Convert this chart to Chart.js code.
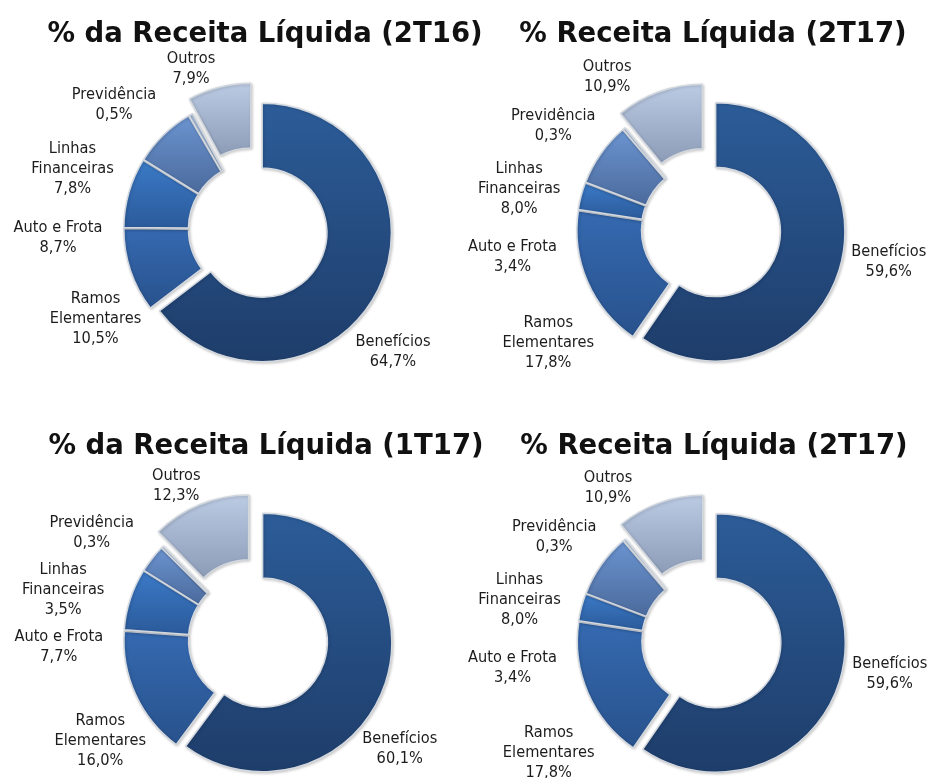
<!DOCTYPE html>
<html>
<head>
<meta charset="utf-8">
<script src="https://cdn.jsdelivr.net/npm/chart.js@4.4.0/dist/chart.umd.min.js"></script>
<style>
html,body{margin:0;padding:0;background:#ffffff;}
#page{position:relative;width:928px;height:778px;overflow:hidden;background:#ffffff;}
#page canvas{position:absolute;}
.ttl{position:absolute;white-space:nowrap;font-family:"DejaVu Sans";font-weight:bold;font-size:27.5px;line-height:32px;color:#111111;transform:translateX(-50%);z-index:2;}
</style>
</head>
<body>
<div id="page">
<canvas id="c0" width="464" height="389" style="left:0px;top:0px"></canvas>
<canvas id="c1" width="464" height="389" style="left:464px;top:0px"></canvas>
<canvas id="c2" width="464" height="389" style="left:0px;top:389px"></canvas>
<canvas id="c3" width="464" height="389" style="left:464px;top:389px"></canvas>
</div>
<script>
// ---------------- DATA ----------------
const categories = ['Benefícios', 'Ramos Elementares', 'Auto e Frota', 'Linhas Financeiras', 'Previdência', 'Outros'];
const categoryLines = [['Benefícios'], ['Ramos', 'Elementares'], ['Auto e Frota'], ['Linhas', 'Financeiras'], ['Previdência'], ['Outros']];
const chartTitles = ['% da Receita Líquida (2T16)', '% Receita Líquida (2T17)', '% da Receita Líquida (1T17)', '% Receita Líquida (2T17)'];
const values2T16 = [64.7, 10.5, 8.7, 7.8, 0.5, 7.9];
const values2T17 = [59.6, 17.8, 3.4, 8.0, 0.3, 10.9];
const values1T17 = [60.1, 16.0, 7.7, 3.5, 0.3, 12.3];
const panelValues = [values2T16, values2T17, values1T17, values2T17];

// ---------------- STYLE / LAYOUT ----------------
const topColors    = ['#2c5c98', '#3569b0', '#3b7ac7', '#6b94d0', '#aabfdd', '#bccbe4'];
const bottomColors = ['#1e3d6a', '#28528c', '#2b5a9a', '#4b6a9c', '#8fa3c2', '#8c9bb6'];
const explodePx = [8, 2, 2, 2, 2, 17];
const RING_BOX = 260;
const LABEL_FONT = '16.5px "DejaVu Sans"';
const LABEL_SCALE_X = 0.885;
const LABEL_LINE = 20;

const panels = [
  {left: 0,   top: 0,   cx: 255,   cy: 229,   titleX: 265, titleY: 41,
   labelPos: [[138, 122.7], [-159.5, 89.5], [-197, 9], [-182.5, -60.5], [-141, -124.5], [-64, -160]]},
  {left: 464, top: 0,   cx: 708,   cy: 229.5, titleX: 713, titleY: 41,
   labelPos: [[180.8, 32.7], [-159.7, 113.1], [-195.5, 27.2], [-188.8, -41], [-154.7, -104.2], [-100.8, -153.2]]},
  {left: 0,   top: 389, cx: 255,   cy: 640,   titleX: 266, titleY: 453,
   labelPos: [[144.8, 108.7], [-154.7, 100.7], [-196.2, 6.7], [-191.8, -50.5], [-163.3, -107], [-78.7, -154]]},
  {left: 464, top: 389, cx: 708.4, cy: 640.6, titleX: 714, titleY: 453,
   labelPos: [[181.3, 32.7], [-159.7, 112.1], [-195.9, 26.9], [-188.9, -40.9], [-154.2, -104.3], [-100.4, -153.1]]}
];

function fmtPct(v) { return v.toFixed(1).replace('.', ',') + '%'; }

function arcYBounds(arc) {
  const angles = [arc.startAngle, arc.endAngle];
  const q = Math.PI / 2;
  for (let k = Math.ceil(arc.startAngle / q); k * q <= arc.endAngle; k++) angles.push(k * q);
  let y0 = Infinity, y1 = -Infinity;
  angles.forEach(a => {
    [arc.outerRadius, arc.innerRadius].forEach(r => {
      const y = arc.y + Math.sin(a) * r;
      if (y < y0) y0 = y;
      if (y > y1) y1 = y;
    });
  });
  return [y0, y1];
}

const pieDecor = {
  id: 'pieDecor',
  afterDatasetUpdate(chart, args) {
    const meta = args.meta;
    const ctx = chart.ctx;
    meta.data.forEach((arc, i) => {
      if (i === 0) meta.$center = {x: arc.x, y: arc.y};
      const d = explodePx[i] || 0;
      const mid = (arc.startAngle + arc.endAngle) / 2;
      arc.x += Math.cos(mid) * d;
      arc.y += Math.sin(mid) * d;
      const b = arcYBounds(arc);
      const g = ctx.createLinearGradient(0, b[0], 0, b[1]);
      g.addColorStop(0, topColors[i]);
      g.addColorStop(1, bottomColors[i]);
      arc.options = Object.assign({}, arc.options, {backgroundColor: g});
    });
  },
  beforeDatasetsDraw(chart) {
    const ctx = chart.ctx;
    ctx.save();
    ctx.shadowColor = 'rgba(0,0,0,0.2)';
    ctx.shadowBlur = 3;
    ctx.shadowOffsetX = 1;
    ctx.shadowOffsetY = 1;
  },
  afterDatasetsDraw(chart) {
    chart.ctx.restore();
  },
  afterDraw(chart, args, opts) {
    const ctx = chart.ctx;
    const p = opts.panel;
    const c = chart.getDatasetMeta(0).$center;
    const vals = chart.data.datasets[0].data;
    ctx.save();
    ctx.fillStyle = '#1c1c1c';
    ctx.font = LABEL_FONT;
    ctx.textAlign = 'center';
    ctx.textBaseline = 'middle';
    vals.forEach((v, i) => {
      const lines = categoryLines[i].concat([fmtPct(v)]);
      const bx = c.x + p.labelPos[i][0];
      const by = c.y + p.labelPos[i][1];
      const y0 = by - (lines.length - 1) / 2 * LABEL_LINE;
      lines.forEach((t, j) => {
        ctx.save();
        ctx.translate(bx, y0 + j * LABEL_LINE);
        ctx.scale(LABEL_SCALE_X, 1);
        ctx.fillText(t, 0, 0);
        ctx.restore();
      });
    });
    ctx.restore();
  }
};

const page = document.getElementById('page');
panels.forEach((p, k) => {
  const t = document.createElement('div');
  t.className = 'ttl';
  t.textContent = chartTitles[k];
  t.style.left = p.titleX + 'px';
  t.style.top = (p.titleY - 25.5) + 'px';
  page.appendChild(t);

  const lcx = p.cx - p.left, lcy = p.cy - p.top;
  const half = RING_BOX / 2;
  new Chart(document.getElementById('c' + k), {
    type: 'doughnut',
    data: {
      labels: categories,
      datasets: [{
        data: panelValues[k],
        backgroundColor: topColors,
        borderColor: '#d3d8df',
        borderWidth: 1.5
      }]
    },
    options: {
      responsive: false,
      devicePixelRatio: 1,
      animation: false,
      events: [],
      cutout: '50%',
      layout: {padding: {left: lcx - half, top: lcy - half, right: 464 - lcx - half, bottom: 389 - lcy - half}},
      plugins: {
        legend: {display: false},
        tooltip: {enabled: false},
        title: {display: false},
        pieDecor: {panel: p}
      }
    },
    plugins: [pieDecor]
  });
});
</script>
</body>
</html>
